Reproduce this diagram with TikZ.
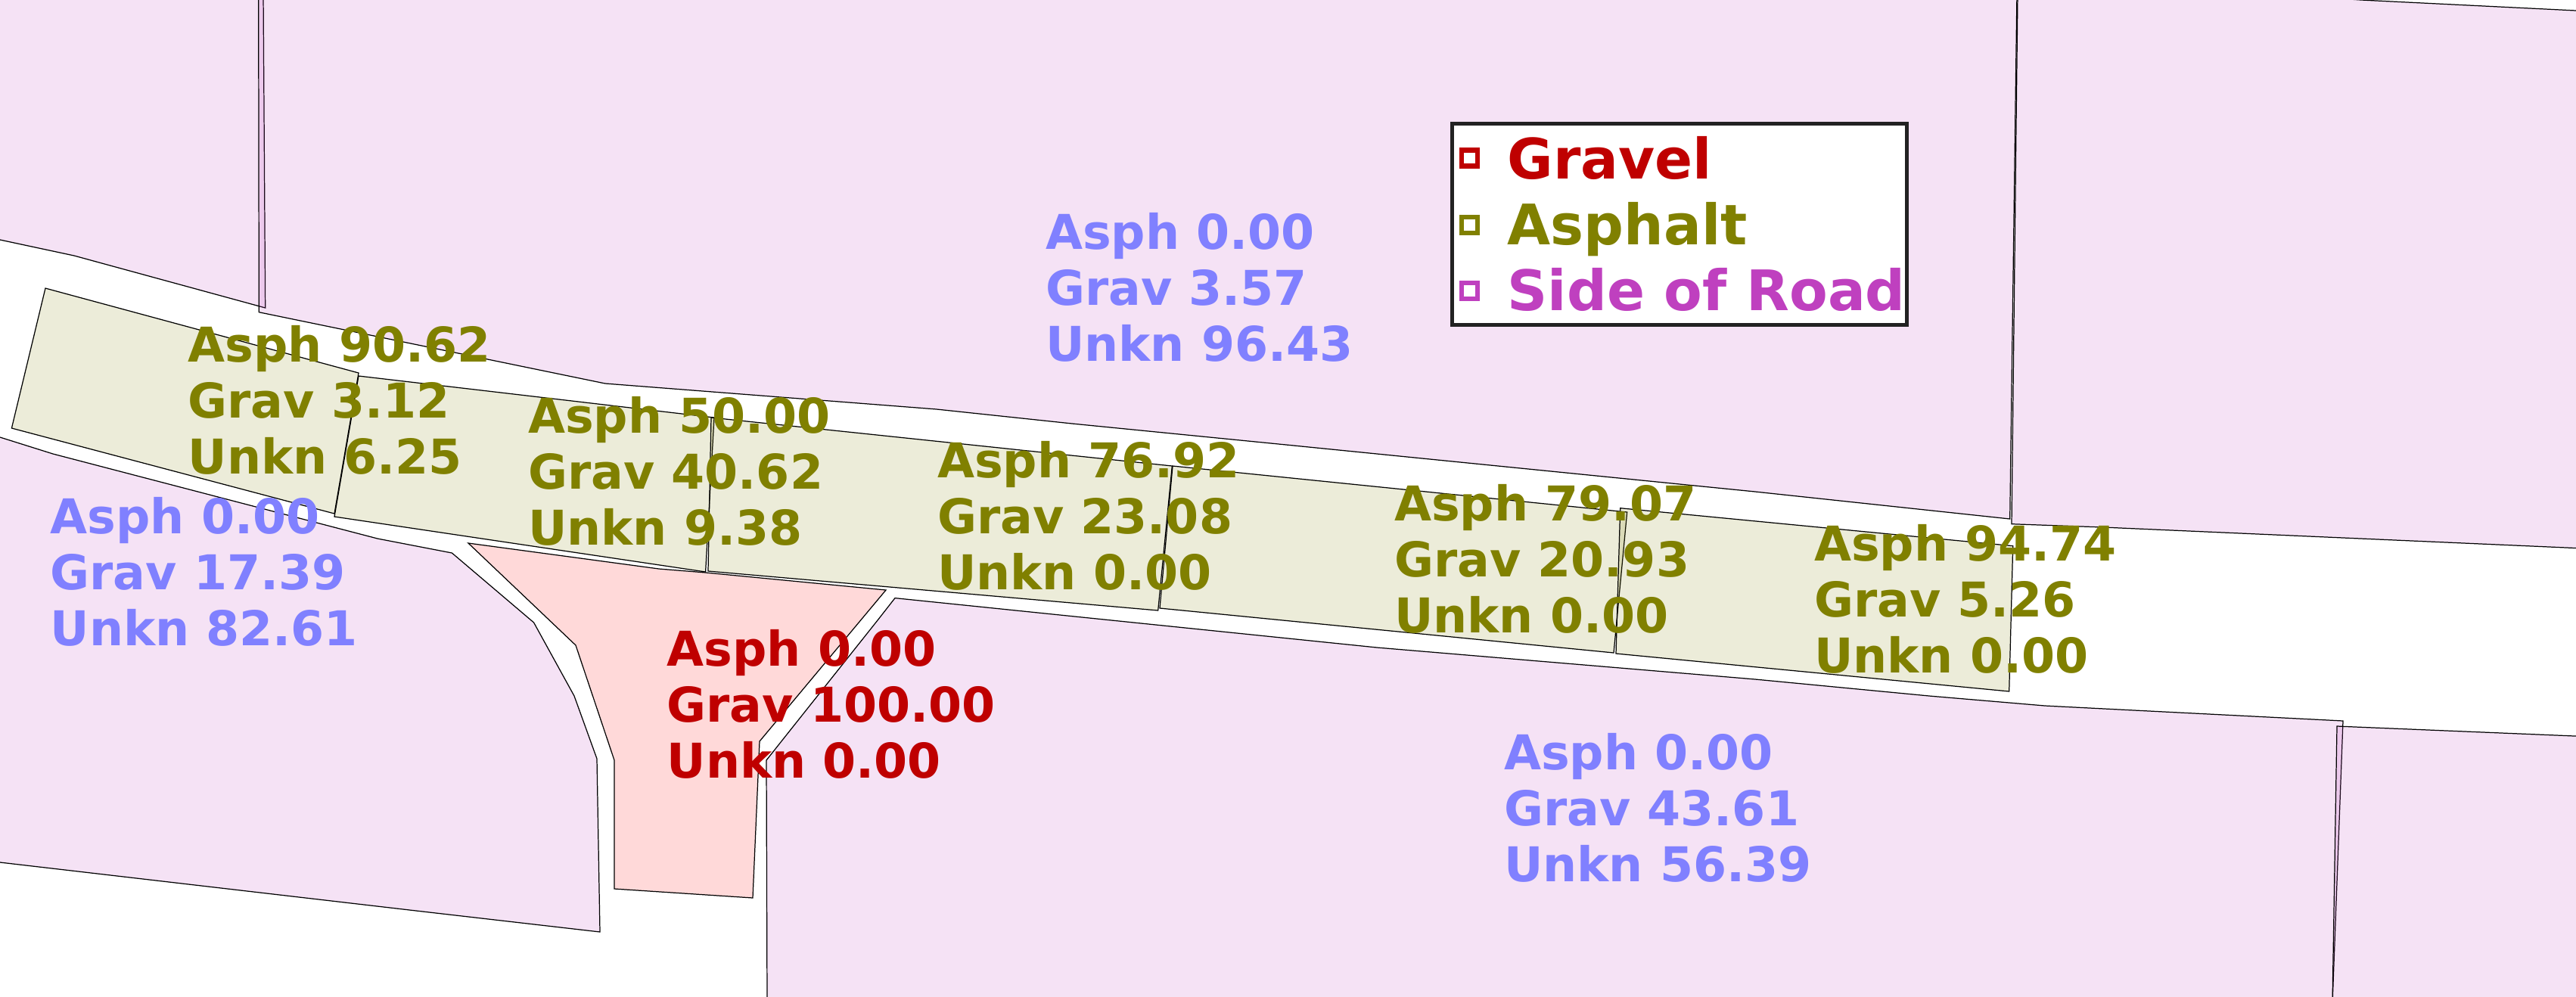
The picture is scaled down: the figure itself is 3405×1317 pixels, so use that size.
\documentclass[tikz,border=0pt]{standalone}
\usepackage{xcolor}
\usepackage{fontspec}
\setmainfont{DejaVu Sans}
\usepackage{tikz}
\definecolor{gravelred}{HTML}{BF0000}
\definecolor{asphaltolive}{HTML}{808000}
\definecolor{sidepurple}{HTML}{BF40BF}
\definecolor{unknblue}{HTML}{8080FF}
\definecolor{legendline}{HTML}{222222}
\tikzset{
  parcel/.style={draw=black, line width=0.35pt, line join=miter, fill opacity=0.15},
  sidepoly/.style={parcel, fill=sidepurple},
  roadpoly/.style={parcel, fill=asphaltolive},
  gravpoly/.style={parcel, fill=red},
  statlabel/.style={anchor=base west, inner sep=0pt, align=left, font=\fontsize{18.02}{21.05}\selectfont\bfseries},
  legendmark/.style={draw, fill=white, line width=0.065cm, minimum size=0.21cm, inner sep=0pt, outer sep=0pt},
  legendtext/.style={anchor=base west, inner sep=0pt, font=\fontsize{21}{25}\selectfont\bfseries}
}

\begin{document}
\begin{tikzpicture}[x=0.01cm, y=-0.01cm]
  \useasboundingbox (0,0) rectangle (3405,1317);
  \fill[white] (0,0) rectangle (3405,1317);
  \clip (0,0) rectangle (3405,1317);

  % Side of road, above the road
  \path[sidepoly] (-10,-10) -- (348,-10) -- (350.7,407) -- (98,338) -- (0,317) -- (-10,312) -- cycle;
  \path[sidepoly] (341.7,-10) -- (342.3,412.7) -- (800,507) -- (1238,541) -- (1417,560) -- (1700,588)
    -- (2020,620) -- (2320,650) -- (2656.7,686) -- (2666,-10) -- cycle;
  \path[sidepoly] (2667,-10) -- (2959,-10) -- (3121,0) -- (3415,14.5) -- (3415,725) -- (2780,697) -- (2659,692.7) -- cycle;

  % Side of road, below the road
  \path[sidepoly] (-10,574) -- (0,578) -- (70,600) -- (499,712) -- (597.4,731) -- (705.6,823) -- (759,920)
    -- (789,1003) -- (793,1232) -- (550,1204) -- (0,1140) -- (-10,1139) -- cycle;
  \path[sidepoly] (1183,790.6) -- (1820,856) -- (2320,898) -- (2550,920) -- (2703,933)
    -- (3097,953) -- (3083,1327) -- (1014,1327) -- (1013,1005) -- (1160,820) -- cycle;
  \path[sidepoly] (3089,960) -- (3415,973.5) -- (3415,1327) -- (3083,1327) -- cycle;

  % Gravel patch
  \path[gravpoly] (619,718) -- (871,752) -- (933,757) -- (1171,780) -- (1004,980) -- (995,1187)
    -- (812,1175) -- (812,1005) -- (761,853) -- cycle;

  % Road segments
  \path[roadpoly] (60,381) -- (474,493) -- (442,679) -- (15.4,566) -- cycle;
  \path[roadpoly] (474,497) -- (944,552) -- (932.6,756) -- (442,683) -- cycle;
  \path[roadpoly] (940,552) -- (1549.3,616) -- (1530.7,807) -- (936,755) -- cycle;
  \path[roadpoly] (1550,616) -- (2150.7,677) -- (2133,863) -- (1533,804) -- cycle;
  \path[roadpoly] (2141.7,671.7) -- (2660.7,721.7) -- (2655.7,914) -- (2136,864) -- cycle;

  % Percentages
  \foreach \nam/\x/\y/\col/\a/\g/\u in {
    sidetop/1381.5/477.5/unknblue/0.00/3.57/96.43,
    sideleft/66/853.5/unknblue/0.00/17.39/82.61,
    sidebot/1987.5/1165.5/unknblue/0.00/43.61/56.39,
    roada/248/626.5/asphaltolive/90.62/3.12/6.25,
    roadb/697.5/720.5/asphaltolive/50.00/40.62/9.38,
    roadc/1238.5/779.5/asphaltolive/76.92/23.08/0.00,
    roadd/1842.5/836.5/asphaltolive/79.07/20.93/0.00,
    roade/2397.5/889.5/asphaltolive/94.74/5.26/0.00,
    gravel/881/1028.5/gravelred/0.00/100.00/0.00} {
    \node[statlabel, text=\col] (lab\nam) at (\x,\y) {Asph \a\\Grav \g\\Unkn \u};
  }

  % Legend
  \node[draw=legendline, fill=white, line width=0.05cm, minimum width=6.01cm, minimum height=2.66cm,
    inner sep=0pt, outer sep=0pt] (legendbox) at (2220,296.5) {};
  \foreach \nam/\y/\col in {gravel/209/gravelred, asphalt/297.5/asphaltolive, side/384.5/sidepurple} {
    \node[legendmark, draw=\col] (mark\nam) at (1942.5,\y) {};
  }
  \node[legendtext, text=gravelred] (textgravel) at (1992,236) {Gravel};
  \node[legendtext, text=asphaltolive] (textasphalt) at (1992,323) {Asphalt};
  \node[legendtext, text=sidepurple] (textside) at (1992,410) {Side of Road};
\end{tikzpicture}
\end{document}
